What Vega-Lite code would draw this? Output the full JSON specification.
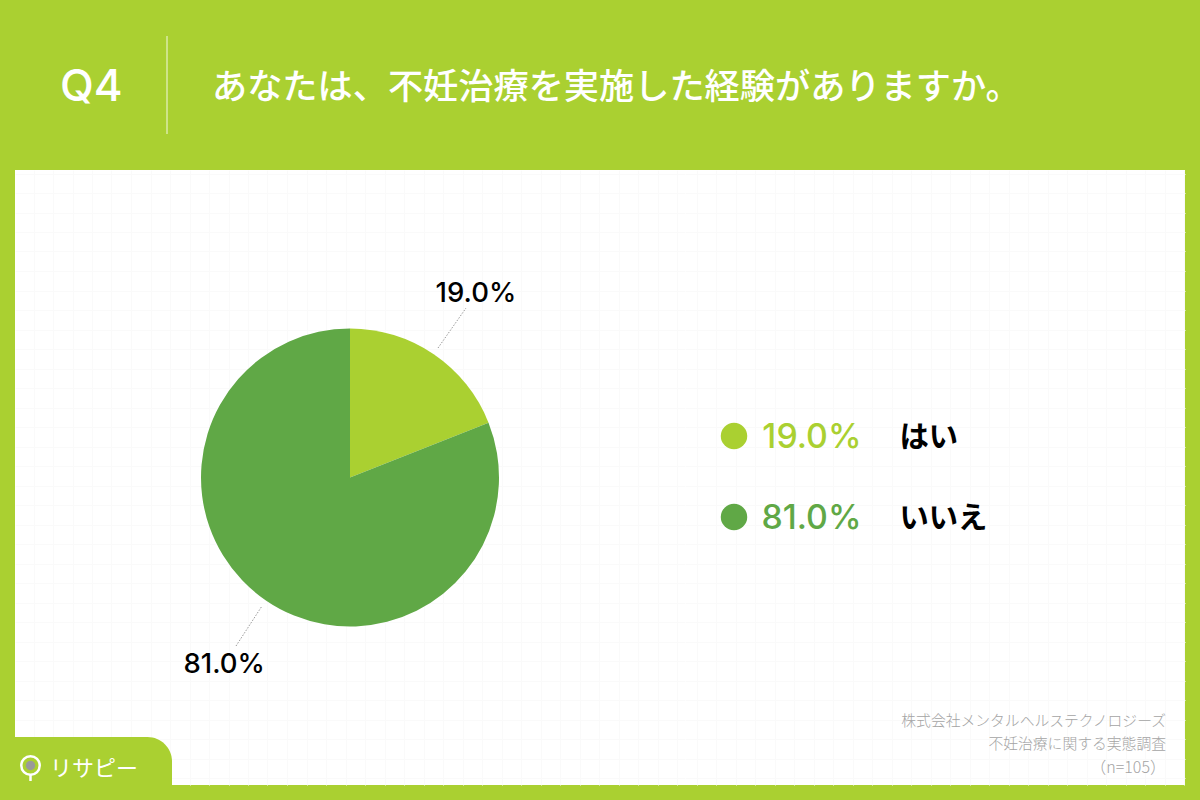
{
"$schema":"https://vega.github.io/schema/vega-lite/v6.json",
"background":"#AAD031",
"padding":{"left":15,"right":15,"top":0,"bottom":15},
"config":{"view":{"stroke":null},"font":"Noto Sans CJK JP","concat":{"spacing":0}},
"spacing":0,
"datasets":{
 "answers":[{"answer":"はい","share":19.0,"label":"19.0%","rank":1},{"answer":"いいえ","share":81.0,"label":"81.0%","rank":2}],
 "header":[{"number":"Q4","question":"あなたは、不妊治療を実施した経験がありますか。"}],
 "source":[{"company":"株式会社メンタルヘルステクノロジーズ","survey":"不妊治療に関する実態調査","sample":"（n=105）"}],
 "brand":[{"name":"リサピー"}]
},
"vconcat":[
{"width":1170,"height":170,"data":{"name":"header"},
 "layer":[
  {"mark":{"type":"text","align":"left","baseline":"middle","fontSize":44,"font":"Inter","fontWeight":500,"color":"white"},
   "encoding":{"x":{"datum":45,"type":"quantitative","scale":{"domain":[0,1170],"range":[0,1170],"nice":false},"axis":null},"y":{"datum":88,"type":"quantitative","scale":{"domain":[0,170],"range":[0,170],"nice":false},"axis":null},"text":{"field":"number"}}},
  {"mark":{"type":"rule","color":"white","strokeWidth":1,"opacity":0.85},
   "encoding":{"x":{"datum":152,"type":"quantitative","axis":null},"y":{"datum":36,"type":"quantitative","axis":null},"y2":{"datum":134}}},
  {"mark":{"type":"text","align":"left","baseline":"middle","fontSize":35.2,"fontWeight":500,"color":"white"},
   "encoding":{"x":{"datum":197,"type":"quantitative","axis":null},"y":{"datum":88,"type":"quantitative","axis":null},"text":{"field":"question"}}}
 ]},
{"spacing":0,"hconcat":[
 {"width":670,"height":615,"view":{"fill":"white","stroke":null},
  "resolve":{"axis":{"x":"independent","y":"independent"}},
  "layer":[
   {"data":{"name":"brand"},"mark":{"type":"bar","color":"#AAD031","cornerRadiusTopRight":48},
    "encoding":{
     "x":{"datum":0,"type":"quantitative","scale":{"domain":[0,670],"range":[0,670],"nice":false},"axis":{"title":null,"labels":false,"ticks":false,"domain":false,"grid":true,"gridColor":"#fafafa","gridWidth":1,"values":[18.5,38,57.5,77,96.5,116,135.5,155,174.5,194,213.5,233,252.5,272,291.5,311,330.5,350,369.5,389,408.5,428,447.5,467,486.5,506,525.5,545,564.5,584,603.5,623,642.5,662]},"stack":null},
     "x2":{"datum":157},
     "y":{"datum":567,"type":"quantitative","scale":{"domain":[0,615],"range":[0,615],"nice":false},"axis":{"title":null,"labels":false,"ticks":false,"domain":false,"grid":true,"gridColor":"#fafafa","gridWidth":1,"values":[3.5,23,42.5,62,81.5,101,120.5,140,159.5,179,198.5,218,237.5,257,276.5,296,315.5,335,354.5,374,393.5,413,432.5,452,471.5,491,510.5,530,549.5,569,588.5,608]}},
     "y2":{"datum":616}}},
   {"data":{"name":"brand"},"mark":{"type":"point","shape":"circle","filled":false,"stroke":"white","strokeWidth":2.5,"size":340,"opacity":1},
    "encoding":{"x":{"datum":15.5,"type":"quantitative","axis":null},"y":{"datum":595.5,"type":"quantitative","axis":null}}},
   {"data":{"name":"brand"},"mark":{"type":"point","shape":"circle","filled":true,"color":"#9a9a9a","opacity":1,"size":90},
    "encoding":{"x":{"datum":15.5,"type":"quantitative","axis":null},"y":{"datum":595.5,"type":"quantitative","axis":null}}},
   {"data":{"name":"brand"},"mark":{"type":"rule","color":"white","strokeWidth":2.5},
    "encoding":{"x":{"datum":15.5,"type":"quantitative","axis":null},"y":{"datum":605,"type":"quantitative","axis":null},"y2":{"datum":611}}},
   {"data":{"name":"brand"},"mark":{"type":"text","align":"left","baseline":"middle","fontSize":22,"fontWeight":400,"color":"white"},
    "encoding":{"x":{"datum":35,"type":"quantitative","axis":null},"y":{"datum":599,"type":"quantitative","axis":null},"text":{"field":"name"}}},
   {"data":{"name":"answers"},"mark":{"type":"rule","color":"#999999","strokeWidth":1,"strokeDash":[1.5,1.5]},
    "transform":[{"filter":"datum.rank==1"}],
    "encoding":{"x":{"datum":423,"type":"quantitative","axis":null},"x2":{"datum":451},"y":{"datum":178,"type":"quantitative","axis":null},"y2":{"datum":138}}},
   {"data":{"name":"answers"},"mark":{"type":"rule","color":"#999999","strokeWidth":1,"strokeDash":[1.5,1.5]},
    "transform":[{"filter":"datum.rank==2"}],
    "encoding":{"x":{"datum":221,"type":"quantitative","axis":null},"x2":{"datum":247},"y":{"datum":476,"type":"quantitative","axis":null},"y2":{"datum":436}}},
   {"data":{"name":"answers"},"mark":{"type":"arc","outerRadius":149},
    "encoding":{"theta":{"field":"share","type":"quantitative","stack":true},"order":{"field":"rank"},"color":{"field":"answer","type":"nominal","sort":["はい","いいえ"],"scale":{"domain":["はい","いいえ"],"range":["#AAD031","#60A846"]},"legend":null}}},
   {"data":{"name":"answers"},"mark":{"type":"text","radius":224,"font":"Inter","fontSize":27.5,"fontWeight":500,"color":"#000000","baseline":"middle","dy":2},
    "encoding":{"theta":{"field":"share","type":"quantitative","stack":true},"order":{"field":"rank"},"text":{"field":"label"}}}
  ]},
 {"width":500,"height":615,"view":{"fill":"white","stroke":null},
  "resolve":{"scale":{"y":"independent"},"axis":{"x":"independent","y":"independent"}},
  "layer":[
   {"data":{"name":"source"},"mark":{"type":"text","align":"right","baseline":"middle","fontSize":14.8,"fontWeight":300,"color":"#a4a4a4","dy":2},
    "encoding":{
     "x":{"datum":481,"type":"quantitative","scale":{"domain":[0,500],"range":[0,500],"nice":false},"axis":{"title":null,"labels":false,"ticks":false,"domain":false,"grid":true,"gridColor":"#fafafa","gridWidth":1,"values":[11.5,31,50.5,70,89.5,109,128.5,148,167.5,187,206.5,226,245.5,265,284.5,304,323.5,343,362.5,382,401.5,421,440.5,460,479.5,499]}},
     "y":{"datum":550,"type":"quantitative","scale":{"domain":[0,615],"range":[0,615],"nice":false},"axis":{"title":null,"labels":false,"ticks":false,"domain":false,"grid":true,"gridColor":"#fafafa","gridWidth":1,"values":[3.5,23,42.5,62,81.5,101,120.5,140,159.5,179,198.5,218,237.5,257,276.5,296,315.5,335,354.5,374,393.5,413,432.5,452,471.5,491,510.5,530,549.5,569,588.5,608]}},
     "text":{"field":"company"}}},
   {"data":{"name":"source"},"mark":{"type":"text","align":"right","baseline":"middle","fontSize":14.8,"fontWeight":300,"color":"#a4a4a4","dy":2},
    "encoding":{"x":{"datum":481,"type":"quantitative","axis":null},"y":{"datum":573,"type":"quantitative","scale":{"domain":[0,615],"range":[0,615],"nice":false},"axis":null},"text":{"field":"survey"}}},
   {"data":{"name":"source"},"mark":{"type":"text","align":"right","baseline":"middle","fontSize":16,"fontWeight":300,"color":"#a4a4a4","dy":2},
    "encoding":{"x":{"datum":481,"type":"quantitative","axis":null},"y":{"datum":596,"type":"quantitative","scale":{"domain":[0,615],"range":[0,615],"nice":false},"axis":null},"text":{"field":"sample"}}},
   {"data":{"name":"answers"},"mark":{"type":"point","shape":"circle","filled":true,"opacity":1,"size":700},
    "encoding":{"x":{"datum":49,"type":"quantitative","axis":null},"y":{"field":"answer","type":"nominal","sort":["はい","いいえ"],"scale":{"type":"point","padding":0,"domain":["はい","いいえ"],"range":[266,347]},"axis":null},"color":{"field":"answer","type":"nominal","scale":{"domain":["はい","いいえ"],"range":["#AAD031","#60A846"]},"legend":null}}},
   {"data":{"name":"answers"},"mark":{"type":"text","align":"right","baseline":"middle","font":"Inter","fontSize":33.8,"fontWeight":500,"dy":2},
    "encoding":{"x":{"datum":176.5,"type":"quantitative","axis":null},"y":{"field":"answer","type":"nominal","sort":["はい","いいえ"],"scale":{"type":"point","padding":0,"domain":["はい","いいえ"],"range":[266,347]},"axis":null},"text":{"field":"label"},"color":{"field":"answer","type":"nominal","scale":{"domain":["はい","いいえ"],"range":["#AAD031","#60A846"]},"legend":null}}},
   {"data":{"name":"answers"},"mark":{"type":"text","align":"left","baseline":"middle","fontSize":29.3,"fontWeight":700,"color":"#000000","dy":2},
    "encoding":{"x":{"datum":214.5,"type":"quantitative","axis":null},"y":{"field":"answer","type":"nominal","sort":["はい","いいえ"],"scale":{"type":"point","padding":0,"domain":["はい","いいえ"],"range":[266,347]},"axis":null},"text":{"field":"answer"}}}
  ]}
]}
]}
